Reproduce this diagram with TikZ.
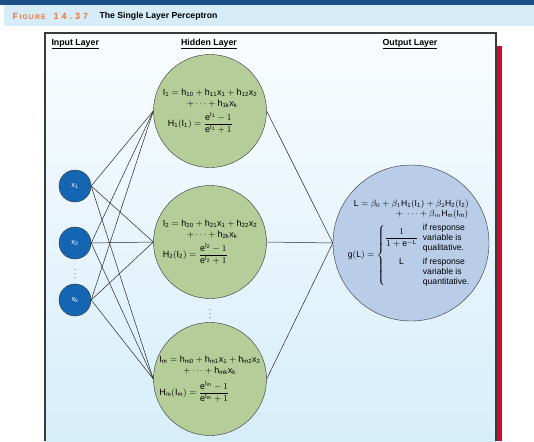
\documentclass[tikz,border=0pt]{standalone}
\usepackage{fontspec}
\usepackage{amsmath}
\setmainfont{Liberation Sans}
\setmathrm{Liberation Sans}
\usetikzlibrary{calc}
\definecolor{bar_blue}{HTML}{1D4F86}
\definecolor{band_blue}{HTML}{D6ECF8}
\definecolor{fig_orange}{HTML}{F0733A}
\definecolor{frame_gray}{HTML}{3A3A3A}
\definecolor{frame_top}{HTML}{FAFCFE}
\definecolor{frame_bot}{HTML}{D6EEFA}
\definecolor{side_red}{HTML}{C8102E}
\definecolor{hidden_green}{HTML}{B5CD99}
\definecolor{input_blue}{HTML}{1566B2}
\definecolor{output_blue}{HTML}{B9CCE8}

\begin{document}
\begin{tikzpicture}[x=1pt,y=-1pt,
    layer/.style={font=\bfseries\fontsize{8.8}{10}\selectfont},
    inputnode/.style={circle,draw=black!80,fill=input_blue,minimum size=32pt,inner sep=0pt,
        text=white,font=\fontsize{7.5}{9}\selectfont},
    hiddennode/.style={circle,draw=black!80,fill=hidden_green,minimum size=113pt,inner sep=0pt,
        align=left,font=\fontsize{9}{10.5}\selectfont},
    outputnode/.style={circle,draw=black!80,fill=output_blue,minimum size=156pt,inner sep=0pt,
        font=\fontsize{8.6}{10}\selectfont},
    link/.style={black!85,line width=0.5pt}]

    \useasboundingbox (0,0) rectangle (534,441);

    % Bandeau du titre
    \fill[bar_blue] (0,0) rectangle (534,5);
    \fill[band_blue] (4,5) rectangle (534,26);
    \node[anchor=west,text=fig_orange,font=\bfseries\fontsize{9}{10}\selectfont] (fig) at (9,16)
        {F\,{\fontsize{6.8}{8}\selectfont I\,G\,U\,R\,E}\hspace{8pt}1\,\,4\,\,.\,\,3\,\,7};
    \node[anchor=west,font=\bfseries\fontsize{8.7}{10}\selectfont] (title) at (96,16) {The Single Layer Perceptron};

    % Cadre et barre rouge
    \shade[top color=frame_top,bottom color=frame_bot] (45,33) rectangle (496,441);
    \draw[frame_gray,line width=1.1pt] (45,441) -- (45,33) -- (496,33) -- (496,441);
    \fill[side_red] (497,46) rectangle (502,441);

    % Titres des couches
    \node[layer,anchor=west] (inlab) at (48,44) {\underline{Input Layer}};
    \node[layer] (hidlab) at (209,44) {\underline{Hidden Layer}};
    \node[layer] (outlab) at (410,44) {\underline{Output Layer}};

    % Couche d'entree
    \node[inputnode] (x1) at (75,186) {x\textsubscript{1}};
    \node[inputnode] (x2) at (75,243) {x\textsubscript{2}};
    \node[inputnode] (xk) at (75,300) {x\textsubscript{k}};
    \node[font=\fontsize{7}{7}\selectfont] (vdx) at (75,271) {$\vdots$};

    % Couche cachee
    \node[hiddennode] (h1) at (210,111) {%
        $\mathrm{I_1 = h_{10} + h_{11}x_1 + h_{12}x_2}$\\
        \hspace*{24pt}$+ \cdots + \mathrm{h_{1k}x_k}$\\[4pt]
        \hspace*{5pt}$\mathrm{H_1(I_1)} = \dfrac{\mathrm{e^{I_1}} - 1}{\mathrm{e^{I_1}} + 1}$};
    \node[hiddennode] (h2) at (210,242) {%
        $\mathrm{I_2 = h_{20} + h_{21}x_1 + h_{22}x_2}$\\
        \hspace*{24pt}$+ \cdots + \mathrm{h_{2k}x_k}$\\[4pt]
        $\mathrm{H_2(I_2)} = \dfrac{\mathrm{e^{I_2}} - 1}{\mathrm{e^{I_2}} + 1}$};
    \node[hiddennode] (hm) at (210,379) {%
        $\mathrm{I_m = h_{m0} + h_{m1}x_1 + h_{m2}x_2}$\\
        \hspace*{24pt}$+ \cdots + \mathrm{h_{mk}x_k}$\\[6pt]
        $\mathrm{H_m(I_m)} = \dfrac{\mathrm{e^{I_m}} - 1}{\mathrm{e^{I_m}} + 1}$};
    \node[font=\fontsize{7}{7}\selectfont] (vdh) at (210,311) {$\vdots$};

    % Couche de sortie
    \node[outputnode] (out) at (411,243) {%
        \begin{tabular}{@{}l@{}}
        \hspace*{6pt}$\mathrm{L} = \beta_0 + \beta_1\mathrm{H_1(I_1)} + \beta_2\mathrm{H_2(I_2)}$\\
        \hspace*{48pt}$+ \ \cdots + \beta_m\mathrm{H_m(I_m)}$\\[5pt]
        $\mathrm{g(L)} = \left\{\begin{tabular}{@{}c@{\hspace{5pt}}l@{}}
            $\dfrac{1}{1 + \mathrm{e^{-L}}}$ & \parbox[c]{50pt}{\raggedright if response variable is qualitative.}\\[14pt]
            $\mathrm{L}$ & \parbox[t]{50pt}{\raggedright if response variable is quantitative.}\\[18pt]
        \end{tabular}\right.$
        \end{tabular}};

    % Liaisons entree -> cachee -> sortie
    \foreach \i in {x1,x2,xk}
        \foreach \j in {h1,h2,hm}
            \draw[link] (\i.east) -- (\j.west);
    \foreach \j in {h1,h2,hm}
        \draw[link] (\j.east) -- (out.west);
\end{tikzpicture}
\end{document}
